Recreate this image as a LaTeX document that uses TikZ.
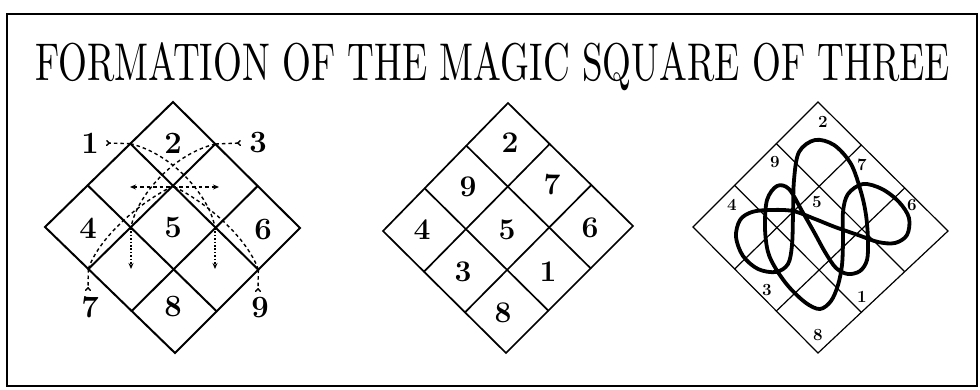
\documentclass[tikz,border=0pt]{standalone}
\usepackage{fontspec}
\usepackage{graphicx}
\usetikzlibrary{calc,arrows.meta}
\tikzset{
  frame/.style={line width=1.8pt},
  gridA/.style={line width=2pt, line cap=round, line join=miter},
  gridB/.style={line width=1.7pt, line cap=round, line join=miter},
  gridC/.style={line width=1.2pt, line cap=round, line join=miter},
  knot/.style={line width=3.8pt, line join=round},
  numA/.style={font=\fontsize{31}{31}\selectfont\bfseries, inner sep=0pt},
  numB/.style={font=\fontsize{30}{30}\selectfont\bfseries, inner sep=0pt},
  numC/.style={font=\fontsize{17}{17}\selectfont\bfseries, inner sep=0pt},
  dashline/.style={line width=1.4pt, dash pattern=on 3.5pt off 3pt},
  dotline/.style={line width=1.8pt, dash pattern=on 1.6pt off 1.8pt},
  tipA/.style={-{Stealth[length=6pt,width=5pt]}},
  tipBoth/.style={{Stealth[length=6pt,width=5pt]}-{Stealth[length=6pt,width=5pt]}},
  tailA/.style={-{To[reversed,length=4pt,width=6pt]}},
}
\newcommand\mygrid[2]{%
  \foreach \k in {1,2} {
    \draw[#1] ($(#2T)!\k/3!(#2L)$) -- ($(#2R)!\k/3!(#2B)$);
    \draw[#1] ($(#2T)!\k/3!(#2R)$) -- ($(#2L)!\k/3!(#2B)$);
  }
  \draw[#1] (#2T) -- (#2R) -- (#2B) -- (#2L) -- cycle;
}
\begin{document}
\begin{tikzpicture}[x=1pt,y=-1pt]
\useasboundingbox (0,0) rectangle (980,389);
\draw[frame] (7,14) rectangle (977,386);
\node[anchor=base, inner sep=0pt] (title) at (492.5,80)
  {\resizebox{915pt}{38pt}{FORMATION OF THE MAGIC SQUARE OF THREE}};

% ---------- left diamond ----------
\coordinate (aT) at (173,102);
\coordinate (aR) at (300,228);
\coordinate (aB) at (175,353);
\coordinate (aL) at (45,227);
\mygrid{gridA}{a}
\coordinate (c1) at ($(aT)!1/3!(aL)$);
\coordinate (c3) at ($(aT)!1/3!(aR)$);
\coordinate (c7) at ($(aL)!1/3!(aB)$);
\coordinate (c9) at ($(aR)!1/3!(aB)$);
\coordinate (it) at (173,186);
\coordinate (il) at (131,228);
\coordinate (ir) at (215,228);
\coordinate (hl) at (130,187);
\coordinate (hr) at (219,187);
\coordinate (vl) at (131,269);
\coordinate (vr) at (215,269);
\coordinate (t1) at (106,143);
\coordinate (t3) at (241,143);
\coordinate (t7) at (88,291);
\coordinate (t9) at (258,292);

\draw[dashline,tailA] (c1) -- (t1);
\draw[dashline,tailA] (c3) -- (t3);
\draw[dashline,tailA] (c7) -- (t7);
\draw[dashline,tailA] (c9) -- (t9);
\draw[dashline] (c1) .. controls (176,155) and (211,200) .. (ir);
\draw[dashline] (c3) .. controls (170,155) and (135,200) .. (il);
\draw[dashline] (c7) .. controls (98,240) and (135,205) .. (it);
\draw[dashline] (c9) .. controls (248,240) and (211,205) .. (it);
\draw[dashline,tipBoth] (hl) -- (hr);
\draw[dotline,tipA] (il) -- (vl);
\draw[dotline,tipA] (ir) -- (vr);

\node[numA] (a1) at (90,143) {1};
\node[numA] (a2) at (173,143) {2};
\node[numA] (a3) at (258,143) {3};
\node[numA] (a4) at (88,228) {4};
\node[numA] (a5) at (173,228) {5};
\node[numA] (a6) at (263,230) {6};
\node[numA] (a7) at (90,307) {7};
\node[numA] (a8) at (173,307) {8};
\node[numA] (a9) at (260,308) {9};

% ---------- middle diamond ----------
\coordinate (bT) at (508,103);
\coordinate (bR) at (633,226);
\coordinate (bB) at (506,353);
\coordinate (bL) at (383,231);
\mygrid{gridB}{b}
\node[numB] (b2) at (510,143) {2};
\node[numB] (b9) at (468,187) {9};
\node[numB] (b7) at (552,185) {7};
\node[numB] (b4) at (422,230) {4};
\node[numB] (b5) at (507,230) {5};
\node[numB] (b6) at (590,228) {6};
\node[numB] (b3) at (463,272) {3};
\node[numB] (b1) at (548,272) {1};
\node[numB] (b8) at (503,313) {8};

% ---------- right diamond ----------
\coordinate (cT) at (818,102);
\coordinate (cR) at (948,231);
\coordinate (cB) at (818,353);
\coordinate (cL) at (693,227);
\mygrid{gridC}{c}
\draw[knot] plot[smooth cycle, tension=0.55] coordinates {
 (815,219) (835,227) (858,235) (878,242) (895,243) (907,235) (909,218)
 (899,202) (882,189) (863,184) (848,194) (843,212) (843,240) (842,265)
 (838,285) (831,301) (820,309) (806,303) (789,287) (776,269) (768,252)
 (765,228) (767,200) (777,186) (789,189) (802,211) (814,232) (825,252)
 (836,268) (848,274) (860,271) (867,260) (868,240) (866,215) (861,192)
 (851,164) (834,145) (815,140) (799,152) (794,180) (793,215) (792,245)
 (788,264) (776,272) (758,269) (743,256) (736,237) (740,220) (752,212)
 (770,210) (793,211)};
\node[numC] (c2l) at (823,122) {2};
\node[numC] (c9l) at (775,162) {9};
\node[numC] (c7l) at (862,165) {7};
\node[numC] (c4l) at (732,205) {4};
\node[numC] (c5l) at (817,202) {5};
\node[numC] (c6l) at (912,205) {6};
\node[numC] (c3l) at (767,290) {3};
\node[numC] (c1l) at (862,297) {1};
\node[numC] (c8l) at (818,335) {8};
\end{tikzpicture}
\end{document}
